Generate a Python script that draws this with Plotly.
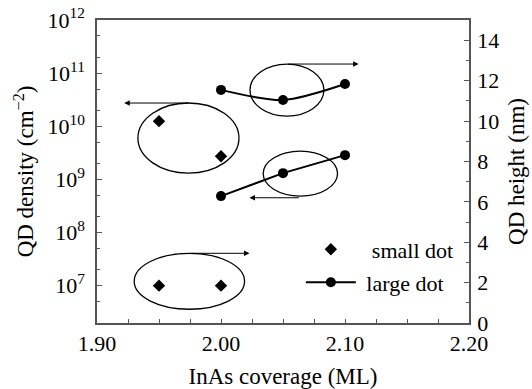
import math
import plotly.graph_objects as go

# ---- data ----
x_small = [1.95, 2.00]
small_density = [1.24e10, 2.7e9]      # cm^-2 (left axis)
small_height = [1.85, 1.85]           # nm (right axis)

x_large = [2.00, 2.05, 2.10]
large_density = [4.8e8, 1.3e9, 2.84e9]  # cm^-2 (left axis)
large_height = [11.54, 11.04, 11.83]    # nm (right axis)

x_ticks = [1.90, 2.00, 2.10, 2.20]
density_exp = [7, 8, 9, 10, 11, 12]
height_ticks = [0, 2, 4, 6, 8, 10, 12, 14]

# ellipses grouping the series, in right-axis (nm) units: (x0, x1, y0, y1)
ellipses = [
    (1.933, 2.0145, 7.42, 10.89),
    (2.0234, 2.083, 10.24, 12.82),
    (2.034, 2.094, 6.28, 8.51),
    (1.930, 2.019, 0.68, 3.45),
]
# arrows, in right-axis (nm) units: (x_tail, x_head, y)
arrows = [
    (1.975, 1.922, 10.89),
    (2.053, 2.111, 12.82),
    (2.064, 2.023, 6.20),
    (1.975, 2.023, 3.45),
]

FONT = "Liberation Serif, Times New Roman, serif"
AX = "#555555"
NB = "\u00a0"

fig = go.Figure()
fig.add_trace(go.Scatter(
    x=x_small, y=small_density, mode="markers", name=NB * 2 + "small dot",
    marker=dict(symbol="diamond", size=9.5, color="black"),
    legend="legend", yaxis="y"))
fig.add_trace(go.Scatter(
    x=x_small, y=small_height, mode="markers", name="small dot",
    marker=dict(symbol="diamond", size=9.5, color="black"),
    showlegend=False, yaxis="y2"))
fig.add_trace(go.Scatter(
    x=x_large, y=large_height, mode="lines+markers", name=NB + "large dot",
    line=dict(color="black", width=2, shape="spline", smoothing=0.8),
    marker=dict(symbol="circle", size=10, color="black"),
    legend="legend2", yaxis="y2"))
fig.add_trace(go.Scatter(
    x=x_large, y=large_density, mode="lines+markers", name="large dot",
    line=dict(color="black", width=2),
    marker=dict(symbol="circle", size=10, color="black"),
    showlegend=False, yaxis="y"))

for x0, x1, y0, y1 in ellipses:
    fig.add_shape(type="circle", xref="x", yref="y2", x0=x0, x1=x1, y0=y0, y1=y1,
                  line=dict(color="black", width=1.3), layer="above")

for xt, xh, yv in arrows:
    fig.add_annotation(x=xh, y=yv, ax=xt, ay=yv, xref="x", yref="y2", axref="x", ayref="y2",
                       showarrow=True, arrowhead=2, arrowsize=1.1, arrowwidth=1,
                       arrowcolor="black", text="")

leg_common = dict(xanchor="left", yanchor="top", bgcolor="rgba(0,0,0,0)",
                  font=dict(size=22), itemwidth=50)
fig.update_layout(
    width=532, height=389,
    margin=dict(l=97, r=63, t=20, b=66),
    paper_bgcolor="white", plot_bgcolor="white",
    font=dict(family=FONT, size=22, color="black"),
    showlegend=True,
    legend=dict(x=0.548, y=0.312, **leg_common),
    legend2=dict(x=0.548, y=0.203, **leg_common),
    xaxis=dict(range=[1.9, 2.2], tickvals=x_ticks, tickformat=".2f", automargin=False,
               ticks="inside", ticklen=4, tickcolor=AX, ticklabelstandoff=0,
               minor=dict(dtick=0.025, ticks="inside", ticklen=4, tickcolor=AX, showgrid=False),
               showline=True, linecolor=AX, linewidth=1.5, mirror=True,
               showgrid=False, zeroline=False,
               title=dict(text="InAs coverage (ML)", font=dict(size=23), standoff=16)),
    yaxis=dict(type="log", range=[6.29, 12], automargin=False,
               tickvals=[10 ** e for e in density_exp],
               ticktext=["10<sup>%d</sup>" % e for e in density_exp],
               ticks="inside", ticklen=5, tickcolor=AX, ticklabelstandoff=6,
               minor=dict(ticks="inside", ticklen=3, tickcolor=AX, showgrid=False),
               showline=True, linecolor=AX, linewidth=1.5,
               showgrid=False, zeroline=False,
               title=dict(text="QD density (cm<sup>−2</sup>)", font=dict(size=23), standoff=7)),
    yaxis2=dict(range=[0, 15], tickvals=height_ticks, overlaying="y", side="right",
                automargin=False,
                ticks="inside", ticklen=5, tickcolor=AX, ticklabelstandoff=2,
                minor=dict(dtick=1, ticks="inside", ticklen=3, tickcolor=AX, showgrid=False),
                showline=True, linecolor=AX, linewidth=1.5,
                showgrid=False, zeroline=False,
                title=dict(text="QD height (nm)", font=dict(size=23), standoff=10)),
)

fig.write_html("out.html")
